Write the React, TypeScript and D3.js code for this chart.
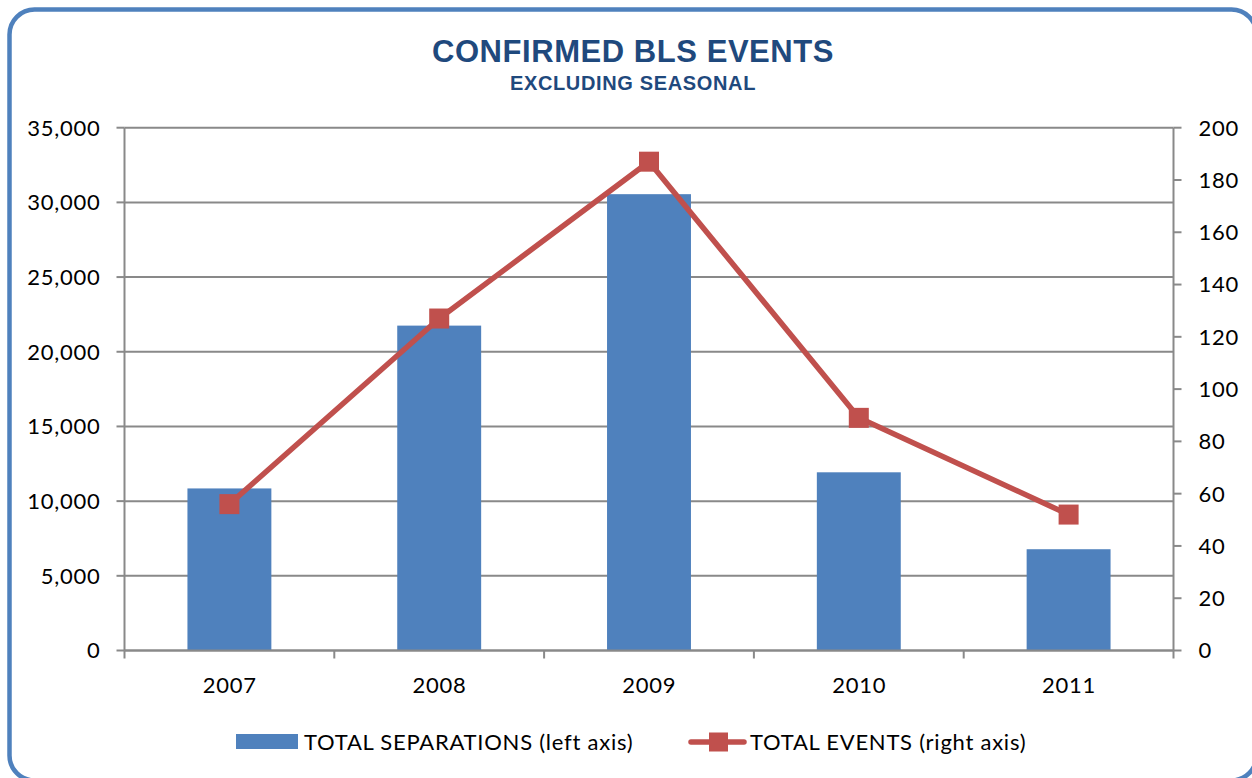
import React from "react";
import * as d3 from "d3";

const categories: string[] = ["2007", "2008", "2009", "2010", "2011"];
const separations: number[] = [10850, 21750, 30550, 11930, 6780];
const events: number[] = [56, 127, 187, 89, 52];
const leftTicks: number[] = [0, 5000, 10000, 15000, 20000, 25000, 30000, 35000];
const rightTicks: number[] = [0, 20, 40, 60, 80, 100, 120, 140, 160, 180, 200];
const titleText = "CONFIRMED BLS EVENTS";
const subtitleText = "EXCLUDING SEASONAL";
const legendBars = "TOTAL SEPARATIONS (left axis)";
const legendLine = "TOTAL EVENTS (right axis)";

const W = 1252;
const H = 778;
const L = 124.5;
const R = 1173.5;
const T = 127.7;
const B = 650.5;

const BLUE = "#4f81bd";
const RED = "#c0504d";
const GRID = "#898989";
const TITLE = "#1f497d";
const LABEL_FONT = "Lato, 'Open Sans', sans-serif";
const TITLE_FONT = "'Liberation Sans', Arial, sans-serif";
const LS = 0.75;

export default function App() {
  const x = d3.scaleBand<string>().domain(categories).range([L, R]).paddingInner(0.6).paddingOuter(0.3);
  const yL = d3.scaleLinear().domain([0, 35000]).range([B, T]);
  const yR = d3.scaleLinear().domain([0, 200]).range([B, T]);
  const step = x.step();
  const fmt = d3.format(",");
  const cx = (c: string) => (x(c) as number) + x.bandwidth() / 2;
  const line = d3
    .line<number>()
    .x((_, i) => cx(categories[i]))
    .y((d) => yR(d));
  const boundaries = d3.range(categories.length + 1).map((i) => L + i * step);
  const ms = 20;

  return (
    <svg
      width={W}
      height={H}
      style={{ position: "absolute", left: 0, top: 0, display: "block", background: "#fff" }}
    >
      <rect x={9.5} y={9.5} width={1247} height={771} rx={25} ry={25} fill="#fff" stroke={BLUE} strokeWidth={4.5} />

      <text x={633} y={62.3} textAnchor="middle" fontFamily={TITLE_FONT} fontWeight="bold" fontSize={31} fill={TITLE} letterSpacing={0.55}>
        {titleText}
      </text>
      <text x={633} y={90} textAnchor="middle" fontFamily={TITLE_FONT} fontWeight="bold" fontSize={20} fill={TITLE} letterSpacing={0.65}>
        {subtitleText}
      </text>

      {/* gridlines */}
      {leftTicks.map((t) => (
        <line key={"g" + t} x1={L} x2={R} y1={yL(t)} y2={yL(t)} stroke={GRID} strokeWidth={2} />
      ))}

      {/* bars */}
      {categories.map((c, i) => (
        <rect key={"b" + c} x={x(c)} y={yL(separations[i])} width={x.bandwidth()} height={B - yL(separations[i])} fill={BLUE} />
      ))}

      {/* axes */}
      <line x1={L} x2={L} y1={T} y2={B} stroke={GRID} strokeWidth={2} />
      <line x1={R} x2={R} y1={T} y2={B} stroke={GRID} strokeWidth={2} />
      <line x1={L} x2={R} y1={B} y2={B} stroke={GRID} strokeWidth={2} />
      {leftTicks.map((t) => (
        <g key={"lt" + t}>
          <line x1={L - 8} x2={L} y1={yL(t)} y2={yL(t)} stroke={GRID} strokeWidth={2} />
          <text x={100.5} y={yL(t)} dy="0.36em" textAnchor="end" fontFamily={LABEL_FONT} fontSize={22} fill="#000" letterSpacing={LS}>
            {fmt(t)}
          </text>
        </g>
      ))}
      {rightTicks.map((t) => (
        <g key={"rt" + t}>
          <line x1={R} x2={R + 8} y1={yR(t)} y2={yR(t)} stroke={GRID} strokeWidth={2} />
          <text x={1198.5} y={yR(t)} dy="0.36em" textAnchor="start" fontFamily={LABEL_FONT} fontSize={22} fill="#000" letterSpacing={LS}>
            {t}
          </text>
        </g>
      ))}
      {boundaries.map((bx, i) => (
        <line key={"xt" + i} x1={bx} x2={bx} y1={B} y2={B + 8} stroke={GRID} strokeWidth={2} />
      ))}
      {categories.map((c) => (
        <text key={"xl" + c} x={cx(c) + LS / 2} y={692.5} textAnchor="middle" fontFamily={LABEL_FONT} fontSize={22} fill="#000" letterSpacing={LS}>
          {c}
        </text>
      ))}

      {/* line series */}
      <path d={line(events) || ""} fill="none" stroke={RED} strokeWidth={5.5} strokeLinejoin="round" strokeLinecap="round" />
      {events.map((v, i) => (
        <rect key={"m" + i} x={cx(categories[i]) - ms / 2} y={yR(v) - ms / 2} width={ms} height={ms} fill={RED} />
      ))}

      {/* legend */}
      <rect x={236} y={734} width={62} height={15} fill={BLUE} />
      <text x={304} y={749.5} fontFamily={LABEL_FONT} fontSize={22} fill="#000" letterSpacing={LS}>
        {legendBars}
      </text>
      <line x1={691} x2={744} y1={742} y2={742} stroke={RED} strokeWidth={5.5} strokeLinecap="round" />
      <rect x={718.5 - 9.5} y={742 - 9.5} width={19} height={19} fill={RED} />
      <text x={750} y={749.5} fontFamily={LABEL_FONT} fontSize={22} fill="#000" letterSpacing={LS}>
        {legendLine}
      </text>
    </svg>
  );
}
